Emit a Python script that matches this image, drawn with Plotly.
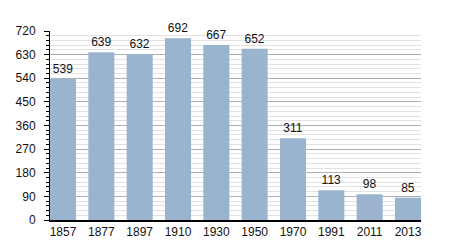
import plotly.graph_objects as go

years = ["1857", "1877", "1897", "1910", "1930", "1950", "1970", "1991", "2011", "2013"]
population = [539, 639, 632, 692, 667, 652, 311, 113, 98, 85]
y_ticks = [0, 90, 180, 270, 360, 450, 540, 630, 720]

fig = go.Figure()
fig.add_trace(go.Bar(
    x=list(range(len(years))), y=population,
    marker=dict(color="#9ab3cf", line=dict(width=0)),
    text=[str(v) for v in population], textposition="outside",
    textfont=dict(family="Liberation Sans, Arial", size=12, color="#111"),
    cliponaxis=False, width=0.68,
))
fig.update_layout(
    width=450, height=250,
    margin=dict(l=50, r=29, t=31, b=30),
    plot_bgcolor="white", paper_bgcolor="white",
    showlegend=False,
    font=dict(family="Liberation Sans, Arial", size=12, color="#111"),
)
fig.update_xaxes(
    range=[-0.34, len(years) - 1 + 0.34],
    tickvals=list(range(len(years))), ticktext=years,
    showline=True, linecolor="black", linewidth=1.5,
    ticks="", showgrid=False, tickfont=dict(size=12),
)
fig.update_yaxes(
    range=[0, 720], tickvals=y_ticks, showline=True, linecolor="black", linewidth=1,
    ticks="outside", ticklen=5, tickcolor="black", ticklabelstandoff=6,
    showgrid=True, gridcolor="#b0b0b0", gridwidth=1,
    minor=dict(dtick=18, tick0=0, showgrid=True, gridcolor="#e2e2e2", ticks="outside", ticklen=3, tickcolor="black"),
    zeroline=False, tickfont=dict(size=12),
)
fig.write_html("out.html")
